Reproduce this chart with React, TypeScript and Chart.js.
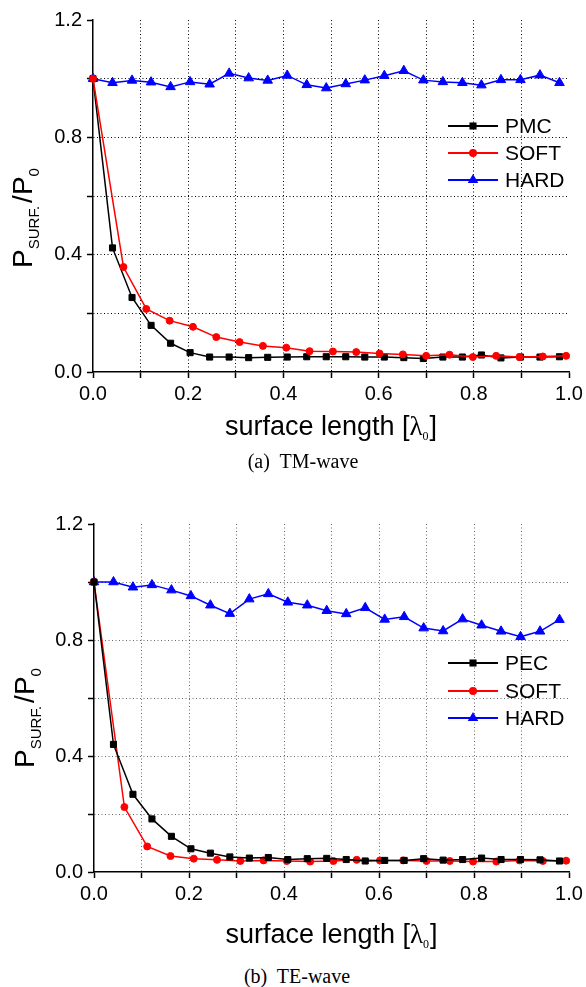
import React, { useEffect, useRef } from 'react';
import { Chart, registerables } from 'chart.js';

Chart.register(...registerables);

// x positions (surface length in λ0)
const xDense = [0, 0.041, 0.082, 0.122, 0.163, 0.204, 0.245, 0.286, 0.327, 0.367, 0.408, 0.449, 0.49, 0.531, 0.571, 0.612, 0.653, 0.694, 0.735, 0.776, 0.816, 0.857, 0.898, 0.939, 0.98];
const xSoft = [0, 0.064, 0.112, 0.161, 0.21, 0.259, 0.308, 0.357, 0.406, 0.455, 0.504, 0.553, 0.602, 0.651, 0.7, 0.749, 0.798, 0.847, 0.896, 0.945, 0.994];

// (a) TM-wave
const tmPMC = [1.0, 0.423, 0.254, 0.159, 0.098, 0.066, 0.051, 0.051, 0.049, 0.05, 0.051, 0.052, 0.052, 0.052, 0.051, 0.051, 0.049, 0.046, 0.051, 0.051, 0.058, 0.048, 0.051, 0.051, 0.052];
const tmSOFT = [1.0, 0.358, 0.215, 0.175, 0.154, 0.119, 0.102, 0.089, 0.083, 0.071, 0.07, 0.068, 0.063, 0.06, 0.055, 0.059, 0.051, 0.055, 0.051, 0.053, 0.055];
const tmHARD = [1.0, 0.986, 0.994, 0.988, 0.972, 0.989, 0.981, 1.018, 1.002, 0.994, 1.011, 0.979, 0.968, 0.982, 0.995, 1.01, 1.027, 0.995, 0.989, 0.986, 0.978, 0.996, 0.996, 1.012, 0.986];

// (b) TE-wave
const tePEC = [1.0, 0.44, 0.268, 0.183, 0.123, 0.08, 0.065, 0.052, 0.048, 0.05, 0.043, 0.046, 0.047, 0.043, 0.038, 0.04, 0.04, 0.046, 0.041, 0.043, 0.048, 0.043, 0.043, 0.042, 0.038];
const teSOFT = [1.0, 0.224, 0.088, 0.055, 0.046, 0.042, 0.038, 0.04, 0.038, 0.036, 0.038, 0.042, 0.04, 0.04, 0.038, 0.038, 0.036, 0.036, 0.04, 0.038, 0.039];
const teHARD = [1.0, 1.0, 0.982, 0.99, 0.972, 0.952, 0.92, 0.891, 0.941, 0.959, 0.93, 0.92, 0.901, 0.89, 0.911, 0.871, 0.88, 0.841, 0.831, 0.872, 0.851, 0.83, 0.811, 0.83, 0.87];

const xLabelValues = [0, 0.2, 0.4, 0.6, 0.8, 1.0];
const yLabelValues = [0, 0.4, 0.8, 1.2];

const SANS = '"Liberation Sans", Arial, sans-serif';
const SERIF = '"Liberation Serif", "Times New Roman", serif';

type Series = { label: string; xs: number[]; ys: number[]; color: string; style: string; r: number; order: number };

function drawMarker(ctx: CanvasRenderingContext2D, style: string, x: number, y: number, r: number, color: string) {
  ctx.fillStyle = color;
  ctx.beginPath();
  if (style === 'rect') {
    const s = r * Math.SQRT1_2 + 0.5;
    ctx.rect(x - s, y - s, 2 * s, 2 * s);
  } else if (style === 'circle') {
    ctx.arc(x, y, r + 0.5, 0, Math.PI * 2);
  } else {
    let a = 0;
    const rr = r + 0.6;
    ctx.moveTo(x + Math.sin(a) * rr, y - Math.cos(a) * rr);
    a += (Math.PI * 2) / 3;
    ctx.lineTo(x + Math.sin(a) * rr, y - Math.cos(a) * rr);
    a += (Math.PI * 2) / 3;
    ctx.lineTo(x + Math.sin(a) * rr, y - Math.cos(a) * rr);
    ctx.closePath();
  }
  ctx.fill();
}

type Run = { t: string; font: string; dy?: number; gap?: number };

function drawRuns(ctx: CanvasRenderingContext2D, runs: Run[]) {
  let total = 0;
  const ws: number[] = [];
  runs.forEach((r) => {
    ctx.font = r.font;
    const w = ctx.measureText(r.t).width;
    ws.push(w);
    total += w + (r.gap || 0);
  });
  let x = -total / 2;
  runs.forEach((r, i) => {
    ctx.font = r.font;
    ctx.fillText(r.t, x, r.dy || 0);
    x += ws[i] + (r.gap || 0);
  });
}

type Spec = {
  top: number;
  height: number;
  areaTop: number;
  areaBottom: number;
  left: number;
  right: number;
  series: Series[];
  legendRows: number[];
  yTitleCenter: number;
  yTitleX: number;
  xTitleBaseline: number;
  gridColor: string;
};

function Panel({ spec }: { spec: Spec }) {
  const ref = useRef<HTMLCanvasElement | null>(null);
  useEffect(() => {
    const canvas = ref.current;
    if (!canvas) return;
    const near = (v: number, arr: number[]) => arr.some((a) => Math.abs(a - v) < 1e-6);

    const decor = {
      id: 'decor',
      afterDraw(chart: any) {
        const ctx: CanvasRenderingContext2D = chart.ctx;
        ctx.save();
        ctx.fillStyle = '#000';
        ctx.textAlign = 'left';
        ctx.textBaseline = 'alphabetic';
        // x title
        const cx = (chart.chartArea.left + chart.chartArea.right) / 2;
        ctx.save();
        ctx.translate(cx, spec.xTitleBaseline);
        drawRuns(ctx, [
          { t: 'surface length [', font: `27px ${SANS}` },
          { t: 'λ', font: `27px ${SERIF}` },
          { t: '0', font: `12px ${SERIF}`, dy: 5, gap: 1 },
          { t: ']', font: `27px ${SANS}` },
        ]);
        ctx.restore();
        // y title
        ctx.save();
        ctx.translate(spec.yTitleX, spec.yTitleCenter);
        ctx.rotate(-Math.PI / 2);
        drawRuns(ctx, [
          { t: 'P', font: `28px ${SANS}` },
          { t: 'SURF.', font: `15px ${SANS}`, dy: 7, gap: 3 },
          { t: '/P', font: `28px ${SANS}` },
          { t: '0', font: `15px ${SANS}`, dy: 7 },
        ]);
        ctx.restore();
        // legend
        spec.series.forEach((s, i) => {
          const y = spec.legendRows[i];
          ctx.strokeStyle = s.color;
          ctx.lineWidth = 2;
          ctx.beginPath();
          ctx.moveTo(448, y);
          ctx.lineTo(498, y);
          ctx.stroke();
          drawMarker(ctx, s.style, 473, y, s.r, s.color);
          ctx.fillStyle = '#000';
          ctx.font = `21px ${SANS}`;
          ctx.textBaseline = 'middle';
          ctx.fillText(s.label, 505, y + 1);
        });
        ctx.restore();
      },
    };

    const chart = new Chart(canvas, {
      type: 'line',
      data: {
        datasets: spec.series.map((s) => ({
          label: s.label,
          data: s.xs.map((x, i) => ({ x, y: s.ys[i] })),
          borderColor: s.color,
          backgroundColor: s.color,
          pointBackgroundColor: s.color,
          pointBorderColor: s.color,
          pointBorderWidth: 1,
          pointStyle: s.style as any,
          pointRadius: s.r,
          borderWidth: 1.5,
          tension: 0,
          clip: false as any,
          order: s.order,
        })),
      },
      options: {
        responsive: false,
        animation: false,
        events: [],
        layout: { padding: { top: spec.areaTop, right: 586 - spec.right, left: 0, bottom: 0 } },
        plugins: { legend: { display: false }, tooltip: { enabled: false }, title: { display: false } },
        scales: {
          x: {
            type: 'linear',
            min: 0,
            max: 1,
            afterFit: (s: any) => {
              s.height = spec.height - spec.areaBottom;
              s.paddingLeft = 0;
              s.paddingRight = 0;
            },
            ticks: {
              stepSize: 0.1,
              autoSkip: false,
              maxRotation: 0,
              color: '#000',
              padding: 4,
              font: { family: SANS, size: 20 },
              callback: (v: any) => (near(Number(v), xLabelValues) ? Number(v).toFixed(1) : ''),
            },
            grid: {
              color: (c: any) => {
                const v = c.tick ? c.tick.value : 0;
                return Math.abs(v) < 1e-6 || Math.abs(v - 1) < 1e-6 ? 'rgba(0,0,0,0)' : spec.gridColor;
              },
              lineWidth: 1,
              tickColor: '#000',
              tickLength: 6,
              tickWidth: 1.5,
            },
            border: { display: true, color: '#000', width: 1.5, dash: [1, 2.5] },
          },
          y: {
            type: 'linear',
            min: 0,
            max: 1.2,
            afterFit: (s: any) => {
              s.width = spec.left;
              s.paddingTop = 0;
              s.paddingBottom = 0;
            },
            ticks: {
              stepSize: 0.2,
              autoSkip: false,
              color: '#000',
              padding: 5,
              font: { family: SANS, size: 20 },
              callback: (v: any) => (near(Number(v), yLabelValues) ? Number(v).toFixed(1) : ''),
            },
            grid: {
              color: (c: any) => {
                const v = c.tick ? c.tick.value : 0;
                return Math.abs(v) < 1e-6 || Math.abs(v - 1.2) < 1e-6 ? 'rgba(0,0,0,0)' : spec.gridColor;
              },
              lineWidth: 1,
              tickColor: '#000',
              tickLength: 6,
              tickWidth: 1.5,
            },
            border: { display: true, color: '#000', width: 1.5, dash: [1, 2.5] },
          },
        },
      } as any,
      plugins: [decor],
    });
    return () => chart.destroy();
  }, [spec]);
  return (
    <canvas
      ref={ref}
      width={586}
      height={spec.height}
      style={{ position: 'absolute', left: 0, top: spec.top, width: 586, height: spec.height }}
    />
  );
}

const tmSpec: Spec = {
  top: 0,
  height: 450,
  areaTop: 20,
  areaBottom: 372,
  left: 93,
  right: 569,
  series: [
    { label: 'PMC', xs: xDense, ys: tmPMC, color: '#000000', style: 'rect', r: 4.3, order: 1 },
    { label: 'SOFT', xs: xSoft, ys: tmSOFT, color: '#ff0000', style: 'circle', r: 3.5, order: 0 },
    { label: 'HARD', xs: xDense, ys: tmHARD, color: '#0000ff', style: 'triangle', r: 5.5, order: 2 },
  ],
  legendRows: [126, 153, 180],
  yTitleCenter: 218,
  yTitleX: 32,
  xTitleBaseline: 435,
  gridColor: '#000000',
};

const teSpec: Spec = {
  top: 480,
  height: 480,
  areaTop: 44,
  areaBottom: 392,
  left: 94,
  right: 569,
  series: [
    { label: 'PEC', xs: xDense, ys: tePEC, color: '#000000', style: 'rect', r: 4.3, order: 0 },
    { label: 'SOFT', xs: xSoft, ys: teSOFT, color: '#ff0000', style: 'circle', r: 3.5, order: 1 },
    { label: 'HARD', xs: xDense, ys: teHARD, color: '#0000ff', style: 'triangle', r: 5.5, order: 2 },
  ],
  legendRows: [183, 211, 238],
  yTitleCenter: 238,
  yTitleX: 34,
  xTitleBaseline: 463,
  gridColor: 'rgba(0,0,0,0.6)',
};

const captionStyle: React.CSSProperties = {
  position: 'absolute',
  width: 300,
  textAlign: 'center',
  fontFamily: SERIF,
  fontSize: 20,
  lineHeight: '24px',
  whiteSpace: 'pre',
  color: '#000',
};

export default function App() {
  return (
    <div style={{ position: 'absolute', left: 0, top: 0, width: 586, height: 987, background: '#fff', overflow: 'hidden' }}>
      <Panel spec={tmSpec} />
      <div style={{ ...captionStyle, left: 303 - 150, top: 449 }}>{'(a)  TM-wave'}</div>
      <Panel spec={teSpec} />
      <div style={{ ...captionStyle, left: 297 - 150, top: 964 }}>{'(b)  TE-wave'}</div>
    </div>
  );
}
